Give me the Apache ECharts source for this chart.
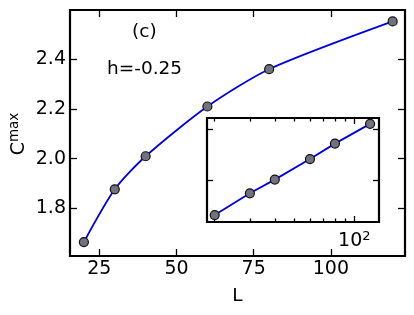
<!DOCTYPE html>
<html>
  <head>
    <meta charset="utf-8" />
    <style>
      html, body { margin: 0; padding: 0; background: #fff; }
    </style>
  </head>
  <body>
  <div id="main" style="width: 414px;height:315px;"></div>

  <script type="text/javascript" src="https://cdn.jsdelivr.net/npm/echarts@6/dist/echarts.min.js"></script>
  <script type="text/javascript">
      // data
      var sizes = [20, 30, 40, 60, 80, 120];
      var cmax = [1.665, 1.877, 2.01, 2.21, 2.36, 2.552];
      var mainXTicks = [25, 50, 75, 100];
      var mainYTicks = [1.8, 2.0, 2.2, 2.4];
      var insetXMajor = [100];
      var insetXMinor = [20, 30, 40, 50, 60, 70, 80, 90];
      var insetYTicks = [2.0, 2.5];

      var points = sizes.map(function (l, i) { return [l, cmax[i]]; });
      var font = 'DejaVu Sans';

      var myChart = echarts.init(document.getElementById('main'));

      function tickAxis(extra) {
        var base = {
          axisLine: { show: false },
          splitLine: { show: false },
          axisLabel: { show: false },
          axisTick: { inside: true, lineStyle: { color: '#000', width: 1.3 } }
        };
        return echarts.util.merge(base, extra, true);
      }

      var markerStyle = { color: '#72727f', borderColor: '#111', borderWidth: 1.2 };
      var lineColor = '#0000dd';

      var option = {
        animation: false,
        backgroundColor: '#fff',
        textStyle: { fontFamily: font },
        grid: [
          { left: 70, right: 9, top: 10, bottom: 59, outerBoundsMode: 'none', containLabel: false,
            show: true, borderColor: '#000', borderWidth: 2.2, backgroundColor: 'transparent' },
          { left: 207, top: 118, width: 172, height: 104, outerBoundsMode: 'none', containLabel: false,
            show: true, borderColor: '#000', borderWidth: 2.2, backgroundColor: '#fff', z: 5 }
        ],
        xAxis: [
          tickAxis({
            gridIndex: 0, type: 'value', position: 'bottom', min: 15.5, max: 124,
            name: 'L', nameLocation: 'middle', nameGap: 31,
            nameTextStyle: { fontSize: 18.5, color: '#000', fontFamily: font },
            axisTick: { customValues: mainXTicks, length: 7 },
            axisLabel: { show: true, customValues: mainXTicks, fontSize: 19, color: '#000', margin: 4, fontFamily: font }
          }),
          tickAxis({
            gridIndex: 0, type: 'value', position: 'top', min: 15.5, max: 124,
            axisTick: { customValues: mainXTicks, length: 7 }
          }),
          tickAxis({
            gridIndex: 1, type: 'log', logBase: 10, position: 'bottom', min: 18.3, max: 133, z: 6,
            axisTick: { customValues: insetXMajor, length: 6 },
            axisLabel: {
              show: true, customValues: insetXMajor, margin: 8,
              formatter: function () { return '10{s|2}'; },
              fontSize: 19, color: '#000', fontFamily: font,
              rich: { s: { fontSize: 13, color: '#000', fontFamily: font, padding: [0, 0, 10, 0] } }
            }
          }),
          tickAxis({
            gridIndex: 1, type: 'log', logBase: 10, position: 'bottom', min: 18.3, max: 133, z: 6,
            axisTick: { customValues: insetXMinor, length: 3.5 }
          }),
          tickAxis({
            gridIndex: 1, type: 'log', logBase: 10, position: 'top', min: 18.3, max: 133, z: 6,
            axisTick: { customValues: insetXMajor, length: 6 }
          }),
          tickAxis({
            gridIndex: 1, type: 'log', logBase: 10, position: 'top', min: 18.3, max: 133, z: 6,
            axisTick: { customValues: insetXMinor, length: 3.5 }
          })
        ],
        yAxis: [
          tickAxis({
            gridIndex: 0, type: 'value', position: 'left', min: 1.609, max: 2.598,
            axisTick: { customValues: mainYTicks, length: 7 },
            axisLabel: {
              show: true, customValues: mainYTicks, fontSize: 19, color: '#000', margin: 4, fontFamily: font,
              formatter: function (v) { return v.toFixed(1); }
            }
          }),
          tickAxis({
            gridIndex: 0, type: 'value', position: 'right', min: 1.609, max: 2.598,
            axisTick: { customValues: mainYTicks, length: 7 }
          }),
          tickAxis({
            gridIndex: 1, type: 'value', position: 'left', min: 1.598, max: 2.609, z: 6,
            axisTick: { customValues: insetYTicks, length: 6 }
          }),
          tickAxis({
            gridIndex: 1, type: 'value', position: 'right', min: 1.598, max: 2.609, z: 6,
            axisTick: { customValues: insetYTicks, length: 6 }
          })
        ],
        graphic: [
          { type: 'text', left: 132, top: 23, style: { text: '(c)', fontSize: 18.5, fill: '#000', fontFamily: font } },
          { type: 'text', left: 107, top: 60, style: { text: 'h=-0.25', fontSize: 18.5, fill: '#000', fontFamily: font } },
          // y axis title, rotated
          {
            type: 'text', x: 19, y: 134, rotation: Math.PI / 2,
            style: {
              text: '{c|C}{s|max}', align: 'center', verticalAlign: 'middle', fill: '#000',
              rich: {
                c: { fontSize: 19, fill: '#000', fontFamily: font },
                s: { fontSize: 13.5, fill: '#000', fontFamily: font, padding: [0, 0, 9, 0] }
              }
            }
          }
        ],
        series: [
          {
            type: 'line', xAxisIndex: 0, yAxisIndex: 0, data: points, smooth: 0.25,
            symbol: 'circle', symbolSize: 9, showAllSymbol: true,
            lineStyle: { color: lineColor, width: 1.8 },
            itemStyle: markerStyle
          },
          {
            type: 'line', xAxisIndex: 2, yAxisIndex: 2, data: points, z: 7,
            symbol: 'circle', symbolSize: 9, showAllSymbol: true,
            lineStyle: { color: lineColor, width: 1.8 },
            itemStyle: markerStyle
          }
        ]
      };

      myChart.setOption(option);
    </script>
</body>
</html>
